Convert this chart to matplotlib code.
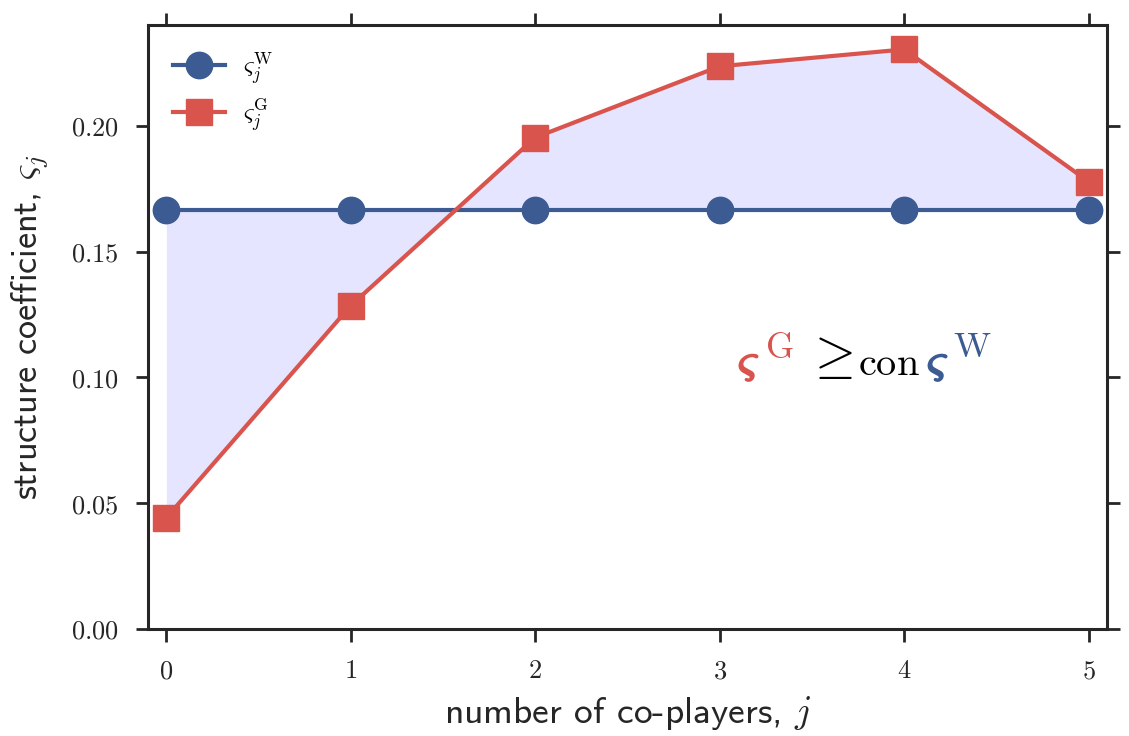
import matplotlib
matplotlib.use('Agg')
import matplotlib.pyplot as plt
import matplotlib.patheffects as pe
from matplotlib.ticker import FuncFormatter
import numpy as np

# data
j_vals = [0, 1, 2, 3, 4, 5]
sigma_w = [1/6, 1/6, 1/6, 1/6, 1/6, 1/6]
sigma_g = [0.0442, 0.1285, 0.1953, 0.2236, 0.2303, 0.1778]
y_ticks = [0.00, 0.05, 0.10, 0.15, 0.20]

blue = '#3b5b92'
red = '#d9544d'
dark = '#262626'

plt.rcParams['mathtext.fontset'] = 'cm'
plt.rcParams['axes.unicode_minus'] = False

fig = plt.figure(figsize=(11.29, 7.36), dpi=100)
ax = fig.add_axes([0.131, 0.1454, 0.8495, 0.8206])

x = np.array(j_vals)
ax.fill_between(x, sigma_w, sigma_g, color='blue', alpha=0.1, linewidth=0)
ax.plot(x, sigma_w, '-o', color=blue, lw=3, ms=19, label=r'$\varsigma_j^{\rm W}$', zorder=3)
ax.plot(x, sigma_g, '-s', color=red, lw=3, ms=19, label=r'$\varsigma_j^{\rm G}$', zorder=4)

ax.set_xlim(-0.1, 5.1)
ax.set_ylim(0, 0.24)
ax.set_xticks(j_vals)
ax.set_yticks(y_ticks)
ax.xaxis.set_major_formatter(FuncFormatter(lambda v, p: r'$%d$' % v))
ax.yaxis.set_major_formatter(FuncFormatter(lambda v, p: r'$%.2f$' % v))

for s in ax.spines.values():
    s.set_linewidth(2.2)
    s.set_color(dark)
ax.tick_params(which='both', direction='out', length=9, width=2, color=dark,
               labelsize=19, pad=12, top=True, right=True, labelcolor=dark)

ax.set_xlabel(r'number of co-players, $j$', fontfamily='cmss10', fontsize=27, color=dark, labelpad=7)
ax.set_ylabel(r'structure coefficient, $\varsigma_j$', fontfamily='cmss10', fontsize=26, color=dark, labelpad=14)

leg = ax.legend(loc='upper left', frameon=False, fontsize=18, handlelength=2.1,
                borderaxespad=0.6, labelspacing=0.4, handletextpad=0.7)

# annotation  ς^G >=_con ς^W  (heavier ς, plain superscripts)
heavy = lambda c: [pe.withStroke(linewidth=1.6, foreground=c)]
kw = dict(ha='left', va='baseline')
ax.text(3.10, 0.1005, r'$\varsigma$', color=red, fontsize=34, path_effects=heavy(red), **kw)
ax.text(3.245, 0.1078, r'$\mathrm{G}$', color=red, fontsize=26, **kw)
ax.text(3.465, 0.1020, r'$\geq$', color='black', fontsize=38, **kw)
ax.text(3.75, 0.1010, r'$\mathrm{con}$', color='black', fontsize=29, **kw)
ax.text(4.125, 0.1005, r'$\varsigma$', color=blue, fontsize=34, path_effects=heavy(blue), **kw)
ax.text(4.265, 0.1082, r'$\mathrm{W}$', color=blue, fontsize=26, **kw)

fig.savefig('out.png', dpi=100)
